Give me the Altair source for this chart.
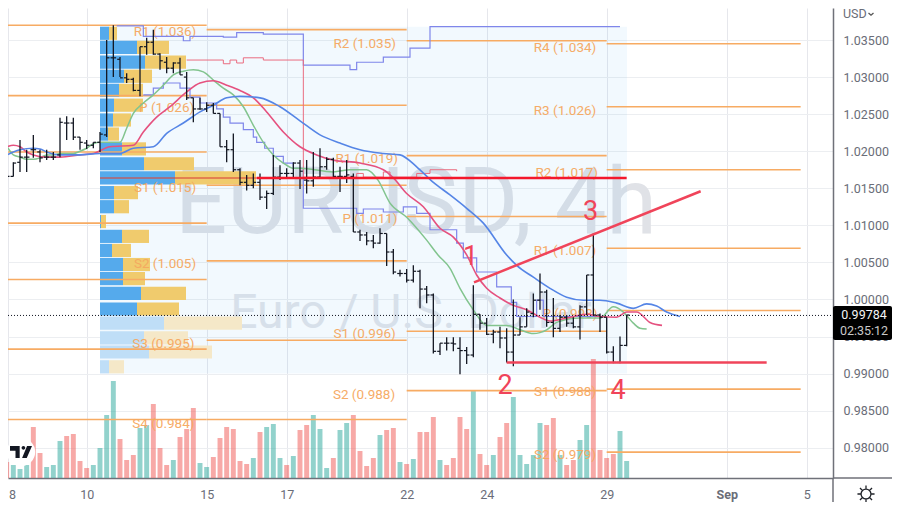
import altair as alt
import pandas as pd

HIGH = [1.0177,1.0185,1.0215,1.0202,1.0222,1.0202,1.0202,1.0199,1.0245,1.0247,1.0245,1.0219,1.0215,1.0212,1.0226,1.0350,1.0370,1.0327,1.0305,1.0299,1.0341,1.0353,1.0364,1.0332,1.0327,1.0320,1.0326,1.0307,1.0272,1.0272,1.0266,1.0265,1.0251,1.0215,1.0224,1.0177,1.0168,1.0170,1.0170,1.0147,1.0195,1.0181,1.0177,1.0185,1.0188,1.0188,1.0199,1.0204,1.0192,1.0191,1.0179,1.0188,1.0170,1.0094,1.0091,1.0087,1.0096,1.0089,1.0068,1.0040,1.0041,1.0046,1.0040,1.0018,1.0008,0.9941,0.9949,0.9949,0.9949,0.9936,1.0019,0.9980,0.9975,0.9959,0.9963,0.9961,1.0000,0.9976,0.9988,1.0008,1.0035,1.0013,1.0002,0.9979,0.9979,0.9976,0.9992,1.0033,1.0089,0.9981,0.9976,0.9937,0.9950,0.9979]
LOW = [1.0158,1.0166,1.0172,1.0172,1.0191,1.0185,1.0188,1.0188,1.0192,1.0215,1.0215,1.0202,1.0203,1.0204,1.0199,1.0219,1.0300,1.0300,1.0292,1.0281,1.0274,1.0330,1.0330,1.0310,1.0305,1.0305,1.0303,1.0269,1.0239,1.0256,1.0253,1.0251,1.0206,1.0185,1.0172,1.0154,1.0147,1.0150,1.0134,1.0122,1.0141,1.0161,1.0164,1.0165,1.0149,1.0143,1.0152,1.0164,1.0175,1.0164,1.0145,1.0157,1.0091,1.0079,1.0073,1.0069,1.0075,1.0045,1.0034,1.0031,1.0023,1.0023,0.9988,0.9995,0.9927,0.9925,0.9931,0.9930,0.9899,0.9913,0.9922,0.9959,0.9952,0.9941,0.9934,0.9915,0.9910,0.9952,0.9963,0.9976,0.9986,0.9963,0.9949,0.9956,0.9963,0.9961,0.9946,0.9979,0.9979,0.9956,0.9927,0.9914,0.9914,0.9937]
OPEN = [1.0175,1.0166,1.0185,1.0192,1.0202,1.0199,1.0192,1.0192,1.0195,1.0238,1.0238,1.0219,1.0211,1.0208,1.0212,1.0222,1.0326,1.0324,1.0299,1.0297,1.0282,1.0341,1.0347,1.0331,1.0320,1.0312,1.0319,1.0300,1.0272,1.0257,1.0257,1.0262,1.0251,1.0206,1.0202,1.0175,1.0158,1.0154,1.0158,1.0138,1.0143,1.0165,1.0170,1.0170,1.0184,1.0161,1.0160,1.0165,1.0179,1.0189,1.0166,1.0166,1.0166,1.0091,1.0087,1.0079,1.0076,1.0089,1.0064,1.0035,1.0035,1.0026,1.0038,1.0014,1.0006,0.9930,0.9941,0.9941,0.9934,0.9931,0.9925,0.9980,0.9968,0.9953,0.9956,0.9948,0.9929,0.9952,0.9963,0.9981,0.9999,1.0010,0.9969,0.9961,0.9976,0.9968,0.9963,0.9990,1.0033,0.9979,0.9976,0.9929,0.9915,0.9938]
CLOSE = [1.0166,1.0184,1.0192,1.0192,1.0202,1.0191,1.0192,1.0192,1.0239,1.0238,1.0219,1.0212,1.0208,1.0212,1.0223,1.0326,1.0326,1.0299,1.0297,1.0282,1.0341,1.0347,1.0331,1.0322,1.0312,1.0319,1.0303,1.0272,1.0257,1.0257,1.0262,1.0251,1.0206,1.0202,1.0175,1.0158,1.0154,1.0158,1.0138,1.0143,1.0165,1.0170,1.0170,1.0184,1.0173,1.0160,1.0165,1.0179,1.0189,1.0166,1.0166,1.0168,1.0091,1.0087,1.0079,1.0076,1.0089,1.0064,1.0037,1.0035,1.0026,1.0038,1.0014,1.0006,0.9930,0.9941,0.9941,0.9940,0.9931,0.9925,0.9980,0.9968,0.9953,0.9956,0.9948,0.9929,0.9952,0.9963,0.9983,0.9999,1.0010,0.9969,0.9961,0.9976,0.9968,0.9963,0.9990,1.0033,0.9979,0.9976,0.9929,0.9915,0.9938,0.9979]
VOLUME = [16,13,9,13,51,25,11,13,37,42,44,17,10,13,30,63,97,39,18,23,50,53,74,30,13,18,41,49,70,15,11,21,40,51,49,17,14,20,46,51,54,20,13,22,48,53,63,49,10,20,48,55,63,27,12,20,43,48,50,16,14,19,46,46,61,18,13,20,61,49,88,24,13,23,41,55,81,23,14,23,55,53,60,23,13,18,38,53,119,28,20,24,47,17]
VOL_DIR = ["r","g","g","g","r","r","g","g","g","r","r","r","r","g","g","g","g","r","r","r","g","g","r","r","r","g","r","r","r","g","g","r","r","r","r","r","r","g","r","g","g","g","r","g","r","r","g","g","g","r","g","g","r","r","r","r","g","r","r","g","r","g","r","r","r","g","r","r","r","r","g","r","r","g","r","r","g","g","g","g","g","r","r","g","r","r","g","g","r","r","r","r","g","g"]

GREEN_X = [-1,0,1,2,3,4,5,6,7,8,9,10,11,12,13,14,17,18,19,20.5,22,23.5,25,26.5,28,29.5,31,32.5,34,35.5,37,38.5,40,41.5,43,44,49,51.5,54,55.7,57.5,60,63,64.7,66.5,68,70,72,75,77,79,81,82.5,86,89,91,92.5,94,95,96]
GREEN_P = [1.0212,1.0206,1.0195,1.0192,1.0189,1.0189,1.0191,1.0195,1.0195,1.0197,1.0197,1.0197,1.0200,1.0204,1.0210,1.0212,1.0212,1.0231,1.0251,1.0265,1.0276,1.0289,1.0303,1.0308,1.0310,1.0307,1.0296,1.0285,1.0276,1.0260,1.0235,1.0212,1.0195,1.0184,1.0177,1.0177,1.0172,1.0175,1.0175,1.0161,1.0130,1.0111,1.0080,1.0060,1.0042,1.0015,0.9986,0.9965,0.9965,0.9959,0.9954,0.9959,0.9969,0.9975,0.9975,0.9990,0.9983,0.9968,0.9961,0.9960]
PINK_X = [-1,0,1,2,3,4,6,8,11,13,15.5,19,20.5,22.5,24.5,27,29,31,33,35,37,39,41.5,44,46.5,49,53,56.5,58,60,62.5,65,67,69,70.5,72,74,76,78,80,81.5,84,87,89,91.5,93,94.5,96.5,98.3]
PINK_P = [1.0202,1.0206,1.0208,1.0206,1.0199,1.0195,1.0192,1.0192,1.0195,1.0197,1.0206,1.0208,1.0226,1.0246,1.0260,1.0280,1.0292,1.0295,1.0289,1.0282,1.0272,1.0253,1.0226,1.0206,1.0195,1.0188,1.0184,1.0175,1.0164,1.0143,1.0125,1.0096,1.0084,1.0060,1.0033,1.0015,1.0002,0.9992,0.9986,0.9976,0.9971,0.9975,0.9980,0.9977,0.9976,0.9983,0.9983,0.9969,0.9965]
BLUE_X = [-1,0,1,2,4,5,6,8,11,14,17,19,22,24,26.5,29,31,33,35,38,41,44,47,50,53,56.5,59,61.5,64,66.5,69,71.5,75,76.5,79,81.5,84,86.5,89,91.5,94,96,97.5,99,101]
BLUE_P = [1.0192,1.0195,1.0199,1.0202,1.0204,1.0203,1.0199,1.0195,1.0195,1.0197,1.0197,1.0204,1.0206,1.0224,1.0238,1.0253,1.0262,1.0272,1.0274,1.0272,1.0260,1.0241,1.0222,1.0211,1.0202,1.0197,1.0195,1.0179,1.0158,1.0141,1.0123,1.0103,1.0060,1.0046,1.0030,1.0015,1.0003,0.9999,0.9999,0.9995,0.9988,0.9994,0.9991,0.9983,0.9977]

UPPER_STEP_X = [16.5,20.5,26.5,27.5,32.5,34.5,38.5,44.5,51.5,52.5,56.5,60.5,63.5,92]
UPPER_STEP_P = [1.0369,1.0355,1.0349,1.0355,1.0354,1.0360,1.0358,1.0316,1.0310,1.0320,1.0327,1.0339,1.0368,1.0368]
LOWER_STEP_X = [20.5,22,23.5,26,27.5,29,31.5,32.5,33.5,35.5,37,37.5,38.7,40,41.5,43,44.5,52.5,53.5,56.5,59.5,61.5,63.5,67.5,68.5,70.5,73.5,75.7,76.5,79.5,80.5,89.5]
LOWER_STEP_P = [1.0276,1.0285,1.0292,1.0285,1.0273,1.0265,1.0257,1.0246,1.0238,1.0229,1.0219,1.0212,1.0204,1.0193,1.0184,1.0177,1.0123,1.0116,1.0122,1.0118,1.0125,1.0116,1.0094,1.0076,1.0056,1.0037,1.0017,0.9996,0.9977,0.9999,0.9977,0.9977]
PINK_STEP_X = [27,32.5,33.5,34.5,35.5,38.5,44.5,52.5,53.5,56.5,57.5,61.5,63.5,67.5]
PINK_STEP_P = [1.0323,1.0318,1.0323,1.0319,1.0326,1.0323,1.0165,1.0170,1.0165,1.0172,1.0165,1.0170,1.0175,1.0173]

PROFILE_TOP = [1.0368,1.0349,1.0329,1.0310,1.0291,1.0271,1.0251,1.0232,1.0212,1.0192,1.0173,1.0153,1.0134,1.0114,1.0094,1.0075,1.0056,1.0037,1.0017,0.9996,0.9977,0.9957,0.9938,0.9918]
PROFILE_UP = [9,37,45,24,19,14,13,8,22,44,75,14,14,1,22,12,23,23,41,37,64,44,49,9]
PROFILE_DOWN = [8,32,41,28,24,29,18,11,24,50,81,24,15,5,27,19,27,22,45,42,78,44,63,15]
PROFILE_FADED = [False]*20 + [True]*4

PIVOT_START = [0]*7 + [30]*6 + [60]*5 + [90]*7
PIVOT_END = [30]*7 + [60]*6 + [90]*5 + [119.1]*7
PIVOT_PRICE = [1.0370,1.0275,1.0199,1.0103,1.0027,0.9933,0.9838,
               1.0364,1.0262,1.0154,1.0052,0.9945,0.9838,
               1.0349,1.0194,1.0112,0.9957,0.9877,
               1.0345,1.0260,1.0175,1.0069,0.9985,0.9879,0.9794]

LABEL_TEXT = ["R1 (1.036)","P (1.026)","S1 (1.015)","S2 (1.005)","S3 (0.995)","S4 (0.984)",
              "R2 (1.035)","R1 (1.019)","P (1.011)","S1 (0.996)","S2 (0.988)",
              "R4 (1.034)","R3 (1.026)","R2 (1.017)","R1 (1.007)","P (0.998)","S1 (0.988)","S2 (0.979)"]
LABEL_X = [23.75,24,23.75,23.75,23.5,23.5,53.7,54,54.5,53.7,53.6,83.75,83.75,84,83.75,84.5,83.75,83.75]
LABEL_P = [1.0361,1.0258,1.0150,1.0048,0.9940,0.9832,1.0345,1.0189,1.0108,0.9953,0.9871,1.0339,1.0254,1.0170,1.0065,0.9981,0.9875,0.9790]

LAST_PRICE = 0.99784
X_TICKS = [0.25,12,30,42,60,72,90,108,120]
Y_TICKS = [0.98,0.985,0.99,0.995,1.0,1.005,1.01,1.015,1.02,1.025,1.03,1.035]

FONT = "Roboto"
ORANGE = "#f7ab63"
RED = "#f0445a"

xs = alt.Scale(domain=[0.2, 123.95], nice=False, zero=False)
ys = alt.Scale(domain=[0.97591, 1.03932], nice=False, zero=False)
X = lambda f: alt.X(f, type="quantitative", scale=xs, axis=None)
Y = lambda f: alt.Y(f, type="quantitative", scale=ys, axis=None)

bars = pd.DataFrame({"i": range(len(HIGH)), "high": HIGH, "low": LOW, "open": OPEN, "close": CLOSE,
                     "vol": VOLUME, "dir": VOL_DIR})
bars["l"] = bars.i - 0.42
bars["r"] = bars.i + 0.42
bars["v0"] = bars.i - 0.37
bars["v1"] = bars.i + 0.37

# Axes and grid
x_labels = "{'0.25':'','12':'10','30':'15','42':'17','60':'22','72':'24','90':'29','108':'Sep','120':'5'}[datum.value]"
axes = alt.Chart(pd.DataFrame({"i": [50], "p": [1.0]})).mark_point(opacity=0).encode(
    x=alt.X("i:Q", scale=xs, title=None, axis=alt.Axis(
        values=X_TICKS, labelExpr=x_labels, grid=True, gridColor="#e6e7ec", gridWidth=1,
        domainColor="#6f7179", domainWidth=1.5, ticks=False, labelFont=FONT, labelFontSize=12.5, labelColor="#6a6d78",
        labelPadding=10, labelOverlap=False, labelFlush=False,
        labelFontWeight=alt.expr("datum.value == 108 ? 'bold' : 'normal'"))),
    y=alt.Y("p:Q", scale=ys, title=None, axis=alt.Axis(
        orient="right", values=Y_TICKS, format=".5f", grid=True, gridColor="#eceef1", gridWidth=1.2,
        domainColor="#6f7179", domainWidth=1.5, ticks=False, labelFont=FONT, labelFontSize=12.5, labelColor="#6a6d78",
        labelPadding=10, labelOverlap=False, labelFlush=False)),
)

shade = alt.Chart(pd.DataFrame({"a": [14], "b": [93.05], "t": [1.0368], "d": [0.99]})).mark_rect(
    color="#2196f3", opacity=0.06).encode(x=X("a"), x2="b:Q", y=Y("t"), y2="d:Q")

mark1 = alt.Chart(pd.DataFrame({"t": ["EURUSD, 4h"]})).mark_text(
    font=FONT, fontSize=92, color="#e0e2e7", align="center", baseline="middle"
).encode(text="t:N", x=alt.value(408), y=alt.value(197))
mark2 = alt.Chart(pd.DataFrame({"t": ["Euro / U.S. Dollar"]})).mark_text(
    font=FONT, fontSize=48, color="#e3e5ea", align="center", baseline="middle"
).encode(text="t:N", x=alt.value(403), y=alt.value(306))

vol = alt.Chart(bars).mark_bar(opacity=0.5, cornerRadius=0).encode(
    x=X("v0"), x2="v1:Q",
    y=alt.Y("zero:Q", scale=alt.Scale(domain=[0, 470], nice=False), axis=None),
    y2="vol:Q",
    color=alt.Color("dir:N", scale=alt.Scale(domain=["r", "g"], range=["#ef5350", "#26a69a"]), legend=None),
).transform_calculate(zero="0")

prof = pd.DataFrame({"top": PROFILE_TOP, "up": PROFILE_UP, "down": PROFILE_DOWN, "faded": PROFILE_FADED})
prof["bottom"] = prof.top - 0.00178
prof["zero"] = 0
prof["end"] = prof.up + prof.down
pxs = alt.Scale(domain=[-92, 733], nice=False, zero=False)
prof_up = alt.Chart(prof).mark_rect().encode(
    x=alt.X("zero:Q", scale=pxs, axis=None), x2="up:Q", y=Y("top"), y2="bottom:Q",
    color=alt.condition("datum.faded", alt.value("#bfdef7"), alt.value("#55aaec")),
)
prof_down = alt.Chart(prof).mark_rect().encode(
    x=alt.X("up:Q", scale=pxs, axis=None), x2="end:Q", y=Y("top"), y2="bottom:Q",
    color=alt.condition("datum.faded", alt.value("#f5e8c8"), alt.value("#f0cb6d")),
)

pivots = pd.DataFrame({"a": PIVOT_START, "b": PIVOT_END, "p": PIVOT_PRICE})
pivot_lines = alt.Chart(pivots).mark_rule(color=ORANGE, strokeWidth=1.6).encode(x=X("a"), x2="b:Q", y=Y("p"))

labels = pd.DataFrame({"t": LABEL_TEXT, "i": LABEL_X, "p": LABEL_P})
pivot_labels = alt.Chart(labels).mark_text(
    font=FONT, fontSize=13.5, color="#f6a860", opacity=0.95, align="center", baseline="middle"
).encode(text="t:N", x=X("i"), y=Y("p"))

def line(xv, pv, color, width, interp):
    return alt.Chart(pd.DataFrame({"i": xv, "p": pv})).mark_line(
        color=color, strokeWidth=width, interpolate=interp, clip=True
    ).encode(x=X("i"), y=Y("p"), order="i:Q")

upper = line(UPPER_STEP_X, UPPER_STEP_P, "#7f86ea", 1.2, "step-after")
lower = line(LOWER_STEP_X, LOWER_STEP_P, "#7f86ea", 1.2, "step-after")
pinkstep = line(PINK_STEP_X, PINK_STEP_P, "#ea6d80", 1.0, "step-after")
green = line(GREEN_X, GREEN_P, "#82c48e", 1.5, "monotone")
pink = line(PINK_X, PINK_P, "#e5517f", 1.6, "monotone")
blue = line(BLUE_X, BLUE_P, "#5585e6", 1.6, "monotone")

ink = "#131722"
stem = alt.Chart(bars).mark_rule(color=ink, strokeWidth=1.3).encode(x=X("i"), y=Y("high"), y2="low:Q")
tick_o = alt.Chart(bars).mark_rule(color=ink, strokeWidth=1.2).encode(x=X("l"), x2="i:Q", y=Y("open"))
tick_c = alt.Chart(bars).mark_rule(color=ink, strokeWidth=1.2).encode(x=X("i"), x2="r:Q", y=Y("close"))

poc = alt.Chart(pd.DataFrame({"a": [14], "b": [37.5], "p": [1.0164]})).mark_rule(
    color="#d9433a", opacity=0.55, strokeWidth=2).encode(x=X("a"), x2="b:Q", y=Y("p"))
red_h = alt.Chart(pd.DataFrame({"a": [37.5], "b": [93], "p": [1.0164]})).mark_rule(
    color="#f4182c", strokeWidth=2.5).encode(x=X("a"), x2="b:Q", y=Y("p"))
trend = alt.Chart(pd.DataFrame({"a": [70.1], "b": [104.1], "p": [1.0023], "q": [1.0146]})).mark_rule(
    color=RED, strokeWidth=2.5).encode(x=X("a"), x2="b:Q", y=Y("p"), y2="q:Q")
support = alt.Chart(pd.DataFrame({"a": [75], "b": [114], "p": [0.9915]})).mark_rule(
    color=RED, strokeWidth=2.5).encode(x=X("a"), x2="b:Q", y=Y("p"))
digits = alt.Chart(pd.DataFrame({"t": ["1", "2", "3", "4"], "i": [69.6, 74.75, 87.6, 91.7],
                                 "p": [1.0057, 0.9883, 1.0118, 0.9876]})).mark_text(
    font=FONT, fontSize=27, color=RED, align="center", baseline="middle"
).encode(text="t:N", x=X("i"), y=Y("p"))

dotted = alt.Chart(pd.DataFrame({"p": [LAST_PRICE]})).mark_rule(
    color=ink, strokeWidth=1, strokeDash=[1, 2]).encode(x=alt.value(0), x2=alt.value(825), y=Y("p"))

box = alt.Chart(pd.DataFrame({"k": [1]})).mark_rect(color="#000000", cornerRadius=2).encode(
    x=alt.value(825), x2=alt.value(884), y=alt.value(298), y2=alt.value(332))
def txt(t, px, py, size=12.5, color="#6a6d78", font=FONT, weight="normal", align="center"):
    return alt.Chart(pd.DataFrame({"t": [t]})).mark_text(
        font=font, fontSize=size, color=color, fontWeight=weight, align=align, baseline="middle"
    ).encode(text="t:N", x=alt.value(px), y=alt.value(py))

price_txt = txt(f"{LAST_PRICE:.5f}", 856, 307, color="#f4f4f4")
clock_txt = txt("02:35:12", 856, 323, color="#c9c9c9")
usd_txt = txt("USD", 835, 6, align="left")
eight = txt("8", 4.5, 487)

gear = alt.Chart(pd.DataFrame({"k": [1]})).mark_point(
    shape="M.55,0a.55,.55 0 1,1 -1.1,0a.55,.55 0 1,1 1.1,0ZM0,-.55V-.95M0,.55V.95M.55,0H.95M-.55,0H-.95M.39,.39L.67,.67M-.39,-.39L-.67,-.67M.39,-.39L.67,-.67M-.39,.39L-.67,.67",
    size=324, color="#1f2228", strokeWidth=1.3, filled=False, opacity=1
).encode(x=alt.value(858), y=alt.value(486))

chev = alt.Chart(pd.DataFrame({"k": [1]})).mark_point(
    shape="M-1,-.4L0,.5L1,-.4", size=25, color="#555", strokeWidth=1.3, filled=False, opacity=1
).encode(x=alt.value(863), y=alt.value(6))

edge_v = alt.Chart(pd.DataFrame({"k": [1]})).mark_rule(color="#6f7179", strokeWidth=1.5).encode(
    x=alt.value(825), y=alt.value(470), y2=alt.value(494))
edge_h = alt.Chart(pd.DataFrame({"k": [1]})).mark_rule(color="#6f7179", strokeWidth=1.5).encode(
    y=alt.value(470), x=alt.value(825), x2=alt.value(884))

logo_bg = alt.Chart(pd.DataFrame({"k": [1]})).mark_point(
    shape="circle", filled=True, color="#ffffff", opacity=1, size=804
).encode(x=alt.value(13), y=alt.value(444))
logo = alt.Chart(pd.DataFrame({"k": [1]})).mark_point(
    shape="M-1,-.55H-.12V.55H-.5V-.12H-1ZM.05,-.38a.17,.17 0 1,0 .34,0a.17,.17 0 1,0 -.34,0ZM.55,-.55H1L.52,.55H.1Z",
    filled=True, color="#131722", opacity=1, size=484
).encode(x=alt.value(13), y=alt.value(444))

chart = alt.layer(
    axes, mark1, mark2, shade, vol, prof_up, prof_down, poc, pivot_lines, pivot_labels,
    upper, lower, pinkstep, green, pink, blue, stem, tick_o, tick_c,
    red_h, trend, support, digits, dotted, logo_bg, logo, box, price_txt, clock_txt,
    usd_txt, chev, eight, gear, edge_v, edge_h,
).resolve_scale(x="independent", y="independent").properties(
    width=825, height=470,
    autosize=alt.AutoSizeParams(type="none"),
    padding={"left": 0, "top": 0, "right": 59, "bottom": 24},
    background="#ffffff",
).configure_view(strokeWidth=0)

chart.save("out.html", embed_options={"renderer": "svg", "actions": False})
